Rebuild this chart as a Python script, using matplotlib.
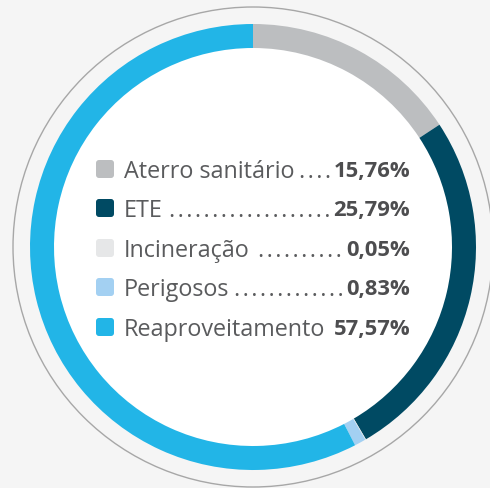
import matplotlib
matplotlib.use("Agg")
import matplotlib.pyplot as plt
from matplotlib.patches import Circle, FancyBboxPatch

categories = ["Aterro sanitário", "ETE", "Incineração", "Perigosos", "Reaproveitamento"]
values = [15.76, 25.79, 0.05, 0.83, 57.57]
value_labels = ["15,76%", "25,79%", "0,05%", "0,83%", "57,57%"]
colors = ["#bcbec0", "#004a63", "#e6e7e8", "#a3d0f2", "#22b5e7"]

W, H = 490, 488
fig = plt.figure(figsize=(W / 100, H / 100), dpi=100)
fig.patch.set_facecolor("#f5f5f5")
ax = fig.add_axes([0, 0, 1, 1])

cx, cy = 253, H - 247
ax.add_patch(Circle((cx, cy), 240, facecolor="none", edgecolor="#a7a7a7", lw=1.0, zorder=1))
ax.add_patch(Circle((cx, cy), 205, facecolor="white", edgecolor="none", zorder=1))

ax.pie(values, colors=colors, radius=223, center=(cx, cy), startangle=90,
       counterclock=False, wedgeprops=dict(width=24, edgecolor="none", linewidth=0),
       frame=True)
ax.set_xlim(0, W)
ax.set_ylim(0, H)
ax.set_aspect("equal")
ax.axis("off")

row_y = [169, 208, 248, 287, 327]
lab_font = dict(family=["Open Sans", "DejaVu Sans"], weight="normal", size=16.8, color="#5a5b5d")
val_font = dict(family="Open Sans", weight="bold", size=15.8, color="#4d4d4f")
x_label = 124
x_right = 410
SEP = "\u200a"

fig.canvas.draw()
renderer = fig.canvas.get_renderer()
inv = ax.transData.inverted()

def width_data(t):
    e = t.get_window_extent(renderer)
    return inv.transform((e.x1, 0))[0] - inv.transform((e.x0, 0))[0]

probe = ax.text(0, 0, ("." + SEP) * 20, **lab_font)
dw = width_data(probe) / 20
probe.remove()

for cat, vl, col, ry in zip(categories, value_labels, colors, row_y):
    y = H - ry
    ax.add_patch(FancyBboxPatch((97, y - 8), 16, 16,
                                boxstyle="round,pad=1,rounding_size=3",
                                facecolor=col, edgecolor="none", zorder=3))
    t1 = ax.text(x_label, y, cat, ha="left", va="center_baseline", zorder=4, **lab_font)
    t2 = ax.text(x_right, y, vl, ha="right", va="center_baseline", zorder=4, **val_font)
    e1 = t1.get_window_extent(renderer)
    e2 = t2.get_window_extent(renderer)
    x0 = inv.transform((e1.x1, 0))[0] + 4
    x1 = inv.transform((e2.x0, 0))[0] - 1
    n = max(0, int((x1 - x0) / dw + 0.3))
    if n > 0:
        ax.text((x0 + x1) / 2, y, ("." + SEP) * (n - 1) + ".", ha="center",
                va="center_baseline", zorder=4, **lab_font)

fig.savefig("out.png", dpi=100, facecolor=fig.get_facecolor())
